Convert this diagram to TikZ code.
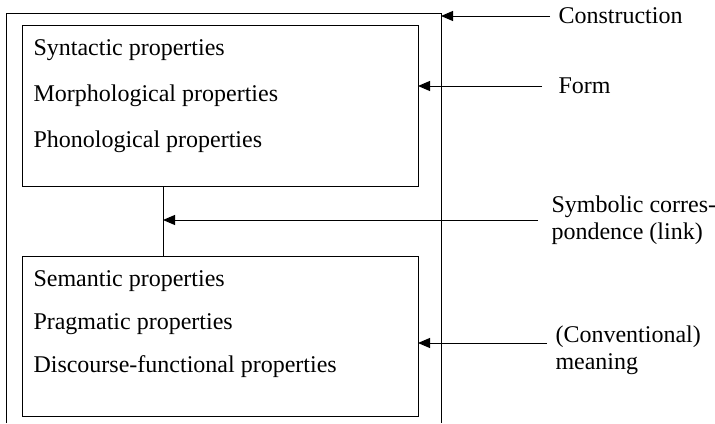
\documentclass[tikz,border=0pt]{standalone}
\usepackage{fontspec}
\setmainfont{Liberation Serif}
\usetikzlibrary{arrows.meta}

\begin{document}
\begin{tikzpicture}[x=0.5pt, y=-0.5pt, line width=0.5pt,
                >={Triangle[length=6pt, width=5pt]},
                box/.style={draw, anchor=north west, inner sep=0pt, outer sep=0pt,
                    minimum width=198pt, minimum height=80.5pt},
                prop/.style={anchor=west, inner sep=0pt, font=\fontsize{12}{14}\selectfont},
                lbl/.style={anchor=west, inner sep=0pt, align=left, font=\fontsize{12}{13.5}\selectfont}
            ]
            \useasboundingbox (0,0) rectangle (715,423);

            % outer frame (open at the bottom)
            \coordinate (outerNE) at (441,13);
            \draw (6,423) |- (outerNE) -- (441,423);

            % form and meaning boxes
            \node[box] (form) at (22,25) {};
            \node[box, minimum height=80pt] (meaning) at (22,256) {};

            \node[prop] (syn) at (33,50) {Syntactic properties};
            \node[prop] (mor) at (33,96) {Morphological properties};
            \node[prop] (pho) at (33,142) {Phonological properties};
            \node[prop] (sem) at (33,281) {Semantic properties};
            \node[prop] (pra) at (33,324) {Pragmatic properties};
            \node[prop] (dis) at (33,367) {Discourse-functional properties};

            % symbolic link
            \coordinate (link) at (163,219);
            \draw (link |- form.south) -- (link |- meaning.north);

            % labels on the right
            \node[lbl] (cons) at (558,16) {Construction};
            \node[lbl] (formlbl) at (558,86) {Form};
            \node[lbl] (symb) at (551,220) {Symbolic corres-\\pondence (link)};
            \node[lbl] (conv) at (555,350) {(Conventional)\\meaning};

            \draw[->] ([xshift=-4pt]cons.west) -- (cons.west -| outerNE);
            \draw[->] ([xshift=-8pt]formlbl.west) -- (formlbl.west -| form.east);
            \draw[->] ([xshift=-6.5pt]symb.west) -- (symb.west -| link);
            \draw[->] ([xshift=-4pt, yshift=3.5pt]conv.west) coordinate (convtail)
                -- (convtail -| meaning.east);
        \end{tikzpicture}
\end{document}
